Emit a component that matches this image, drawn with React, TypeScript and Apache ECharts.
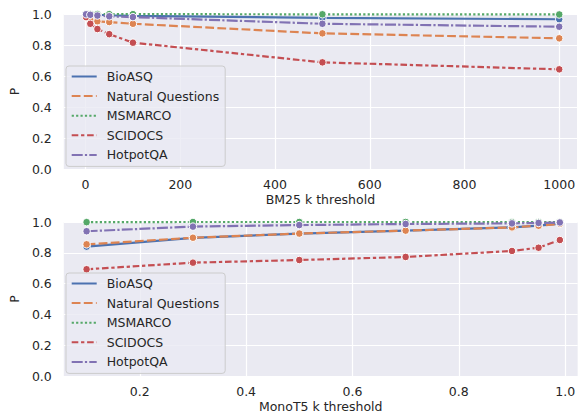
import React, { useEffect, useRef } from "react";
import * as echarts from "echarts";

const seriesNames = ["BioASQ", "Natural Questions", "MSMARCO", "SCIDOCS", "HotpotQA"];
const colors = ["#4c72b0", "#dd8452", "#55a868", "#c44e52", "#8172b3"];

const bm25K = [1, 10, 25, 50, 100, 500, 1000];
const bm25BioASQ = [1.0, 0.997, 0.995, 0.992, 0.988, 0.975, 0.966];
const bm25NQ = [0.985, 0.96, 0.953, 0.948, 0.937, 0.875, 0.843];
const bm25MSMARCO = [1.0, 1.0, 0.999, 0.999, 0.999, 0.998, 0.997];
const bm25SCIDOCS = [0.98, 0.937, 0.903, 0.87, 0.815, 0.688, 0.643];
const bm25HotpotQA = [0.998, 0.995, 0.99, 0.985, 0.98, 0.937, 0.918];

const monoK = [0.1, 0.3, 0.5, 0.7, 0.9, 0.95, 0.99];
const monoBioASQ = [0.84, 0.897, 0.925, 0.944, 0.965, 0.976, 0.99];
const monoNQ = [0.855, 0.898, 0.925, 0.944, 0.965, 0.976, 0.988];
const monoMSMARCO = [0.999, 1.0, 1.0, 1.0, 1.0, 1.0, 1.0];
const monoSCIDOCS = [0.693, 0.736, 0.753, 0.773, 0.812, 0.833, 0.883];
const monoHotpotQA = [0.94, 0.97, 0.98, 0.987, 0.991, 0.994, 0.997];

const bm25Ticks = [0, 200, 400, 600, 800, 1000];
const monoTicks = [0.2, 0.4, 0.6, 0.8, 1.0];

const LW = 2.2;
const dashes: any[] = [
  "solid",
  [4 * LW, 1.5 * LW],
  [1 * LW, 1 * LW],
  [3 * LW, 1.25 * LW, 1.5 * LW, 1.25 * LW],
  [5 * LW, 1 * LW, 1 * LW, 1 * LW],
];

const FONT = "DejaVu Sans";
const TXT = "#262626";

export default function App() {
  const ref = useRef<HTMLDivElement>(null);
  useEffect(() => {
    if (!ref.current) return;
    const chart = echarts.init(ref.current, undefined, { renderer: "svg" });
    const bm25Data = [bm25BioASQ, bm25NQ, bm25MSMARCO, bm25SCIDOCS, bm25HotpotQA];
    const monoData = [monoBioASQ, monoNQ, monoMSMARCO, monoSCIDOCS, monoHotpotQA];

    const mkSeries = (xs: number[], data: number[][], idx: number) =>
      seriesNames.map((name, i) => ({
        name,
        type: "line",
        xAxisIndex: idx,
        yAxisIndex: idx,
        data: xs.map((x, j) => [x, data[i][j]]),
        symbol: "circle",
        symbolSize: 7.5,
        showSymbol: true,
        clip: true,
        itemStyle: { color: colors[i], borderColor: "#ffffff", borderWidth: 1 },
        lineStyle: { color: colors[i], width: LW, type: dashes[i] },
        emphasis: { disabled: true },
      }));

    const xAxisBase = (min: number, max: number, ticks: number[], name: string, gridIndex: number, fmt: (v: number) => string) => ({
      type: "value",
      gridIndex,
      min,
      max,
      name,
      nameLocation: "middle",
      nameGap: 24,
      nameTextStyle: { fontFamily: FONT, fontSize: 12.5, color: TXT },
      axisLine: { show: false },
      axisTick: { show: false, customValues: ticks },
      axisLabel: {
        customValues: ticks,
        formatter: (v: number) => fmt(v),
        fontFamily: FONT,
        fontSize: 12.5,
        color: TXT,
        margin: 9,
      },
      splitLine: { show: true, lineStyle: { color: "#ffffff", width: 1.2 } },
    });

    const yAxisBase = (gridIndex: number) => ({
      type: "value",
      gridIndex,
      min: 0,
      max: 1,
      interval: 0.2,
      name: "P",
      nameLocation: "middle",
      nameGap: 40,
      nameRotate: 90,
      nameTextStyle: { fontFamily: FONT, fontSize: 12.5, color: TXT },
      axisLine: { show: false },
      axisTick: { show: false },
      axisLabel: {
        formatter: (v: number) => v.toFixed(1),
        fontFamily: FONT,
        fontSize: 12.5,
        color: TXT,
        margin: 12,
      },
      splitLine: { show: true, lineStyle: { color: "#ffffff", width: 1.2 } },
    });

    const legendBase = (top: number) => ({
      orient: "vertical",
      left: 66,
      top,
      data: seriesNames,
      itemWidth: 25,
      itemHeight: 12,
      itemGap: 6.6,
      padding: [4, 6, 5, 4.7],
      backgroundColor: "rgba(234,234,242,0.8)",
      borderColor: "#cccccc",
      borderWidth: 1,
      borderRadius: 3,
      selectedMode: false,
      itemStyle: { opacity: 0 },
      textStyle: { fontFamily: FONT, fontSize: 12.5, color: TXT, padding: [0, 0, 0, 5], lineHeight: 12 },
    });

    chart.setOption({
      animation: false,
      grid: [
        { left: 60, top: 14, width: 518, height: 155, show: true, backgroundColor: "#eaeaf2", borderWidth: 0 },
        { left: 60, top: 222, width: 518, height: 154, show: true, backgroundColor: "#eaeaf2", borderWidth: 0 },
      ],
      xAxis: [
        xAxisBase(-46, 1037.6, bm25Ticks, "BM25 k threshold", 0, (v) => String(Math.round(v))),
        xAxisBase(0.0571, 1.0235, monoTicks, "MonoT5 k threshold", 1, (v) => v.toFixed(1)),
      ],
      yAxis: [yAxisBase(0), yAxisBase(1)],
      legend: [legendBase(66), legendBase(273)],
      series: [...mkSeries(bm25K, bm25Data, 0), ...mkSeries(monoK, monoData, 1)],
    });
    return () => chart.dispose();
  }, []);
  return (
    <div
      ref={ref}
      style={{ position: "fixed", left: 0, top: 0, width: 578, height: 417, background: "#ffffff" }}
    />
  );
}
